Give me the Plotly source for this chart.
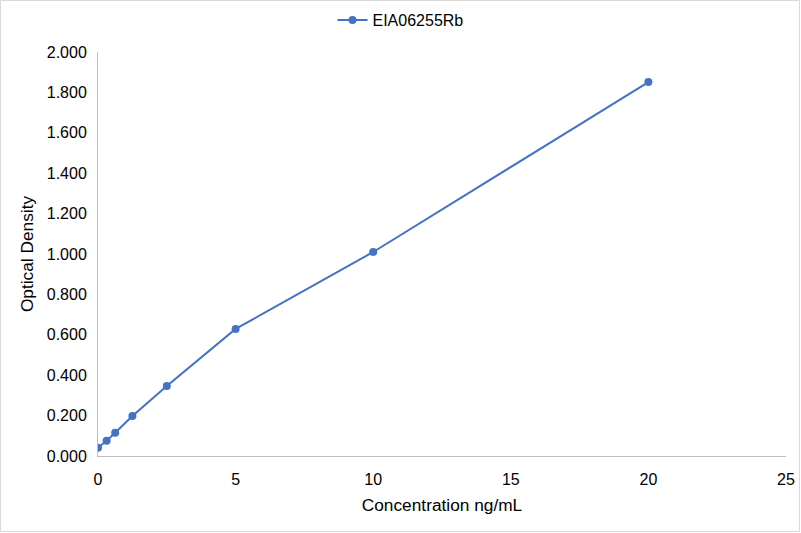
import plotly.graph_objects as go

# standard curve for EIA06255Rb
conc = [0, 0.3125, 0.625, 1.25, 2.5, 5, 10, 20]
od = [0.041, 0.075, 0.115, 0.198, 0.346, 0.629, 1.010, 1.851]
y_ticks = [0, 0.2, 0.4, 0.6, 0.8, 1.0, 1.2, 1.4, 1.6, 1.8, 2.0]
x_ticks = [0, 5, 10, 15, 20, 25]

blue = "#4472C4"
axis_gray = "#BFBFBF"

W, H = 801, 533
L, R, T, B = 98, 15, 52, 77
pw, ph = W - L - R, H - T - B

fig = go.Figure(go.Scatter(
    x=conc, y=od, mode="lines+markers", name="EIA06255Rb",
    line=dict(color=blue, width=2),
    marker=dict(color=blue, size=8),
))

fig.update_layout(
    width=W, height=H,
    margin=dict(l=L, r=R, t=T, b=B, autoexpand=False),
    paper_bgcolor="white", plot_bgcolor="white",
    font=dict(family="Liberation Sans, Arial, sans-serif", size=16, color="#000000"),
    showlegend=True,
    legend=dict(orientation="h", x=0.5, xref="container", xanchor="center",
                y=1 - 20 / H, yref="container", yanchor="middle",
                font=dict(size=16)),
    shapes=[dict(type="rect", xref="paper", yref="paper",
                 x0=-(L - 0.5) / pw, x1=1 + (R - 1.5) / pw,
                 y0=-(B - 1.5) / ph, y1=1 + (T - 0.5) / ph,
                 line=dict(color="#D9D9D9", width=1))],
)

fig.update_xaxes(
    range=[0, 25], tickvals=x_ticks, showgrid=False, zeroline=False,
    showline=True, linecolor=axis_gray, linewidth=1, ticks="",
    ticklabelstandoff=9,
    title=dict(text="Concentration ng/mL", standoff=11, font=dict(size=17.3)),
)
fig.update_yaxes(
    range=[0, 2.0], tickvals=y_ticks, tickformat=".3f", showgrid=False,
    zeroline=False, showline=True, linecolor=axis_gray, linewidth=1, ticks="",
    ticklabelstandoff=7,
    title=dict(text="Optical Density", standoff=8, font=dict(size=17.3)),
)

# drop the default 8px page margin so the figure sits at the window corner
fig.write_html("out.html", config={"displayModeBar": False},
               post_script="document.body.style.margin='0';")
